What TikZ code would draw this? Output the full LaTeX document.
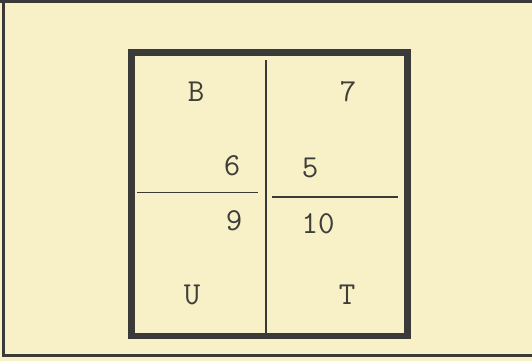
\documentclass[tikz,border=0pt]{standalone}
\usepackage{fontspec}
\definecolor{paper}{HTML}{F8F0C6}
\definecolor{ink}{HTML}{3A3A38}
\definecolor{typeink}{HTML}{3E3E3A}
\begin{document}
\begin{tikzpicture}[x=1pt,y=-1pt,
  lbl/.style={font=\ttfamily\fontsize{32}{32}\selectfont, text=typeink, inner sep=0pt},
  thin/.style={draw=ink, line width=1.2pt},
  thick/.style={draw=ink, line width=6.5pt}]
\useasboundingbox (0,0) rectangle (532,361);
\fill[paper] (0,0) rectangle (532,361);
% outer frame (top, left, bottom)
\draw[ink, line width=3pt] (0,2) -- (532,2);
\draw[ink, line width=3pt] (3.5,2) -- (3.5,355.5);
\draw[ink, line width=3.5pt] (2,355.5) -- (532,355.5);
% inner box
\draw[thick] (131.5,52.5) rectangle (407.5,336);
% dividers
\coordinate (vt) at (266,60);
\coordinate (vb) at (266,333);
\draw[thin] (vt) -- (vb);
\coordinate (hl1) at (137,192.5);
\coordinate (hl2) at (258,192.5);
\draw[thin] (hl1) -- (hl2);
\coordinate (hr1) at (272,197);
\coordinate (hr2) at (398,197);
\draw[thin] (hr1) -- (hr2);
% labels
\node[lbl] (B) at (196,92) {B};
\node[lbl] (n7) at (348,92) {7};
\node[lbl] (n6) at (232,166) {6};
\node[lbl] (n5) at (310,168) {5};
\node[lbl] (n9) at (234,221) {9};
\node[lbl] (n10) at (318,224) {10};
\node[lbl] (U) at (192,295) {U};
\node[lbl] (T) at (347,295) {T};
\end{tikzpicture}
\end{document}
